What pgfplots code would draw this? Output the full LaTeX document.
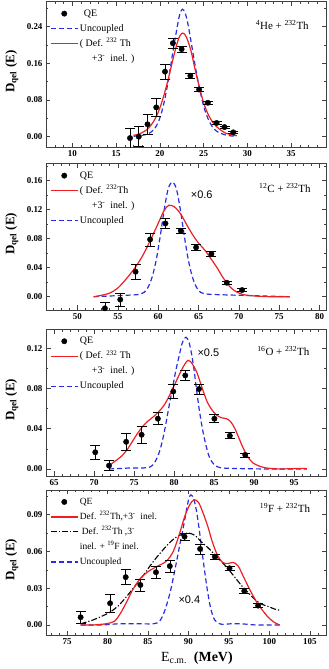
\documentclass[border=0pt]{standalone}
\usepackage{fontspec}
\setmainfont{Liberation Serif}
\newfontfamily\sansf{Liberation Sans}
\usepackage{pgfplots}
\pgfplotsset{compat=1.18}
\definecolor{cred}{RGB}{238,30,35}
\definecolor{cblue}{RGB}{40,45,225}
\pgfplotsset{
  panel/.style={
    scale only axis, width=280bp, anchor=south west,
    axis line style={black!75, line width=0.6bp},
    every tick/.style={black!75, line width=0.5bp},
    tick align=inside,
    major tick length=4.5bp, minor tick length=2.3bp,
    /pgf/number format/assume math mode=true,
    tick label style={font=\bfseries\fontsize{9}{9}\selectfont},
    yticklabel style={/pgf/number format/fixed, /pgf/number format/fixed zerofill, /pgf/number format/precision=2},
    ylabel={\textbf{D\textsubscript{qel} (E)}},
    ylabel style={at={(axis description cs:-0.122,0.52)}, anchor=center, font=\fontsize{13}{13}\selectfont},
    legend cell align=left,
    legend style={draw=none, fill=none, at={(axis description cs:0,1)}, anchor=north west,
      xshift=1bp, yshift=-3bp, font=\fontsize{10}{10}\selectfont, row sep=1.5bp,
      nodes={inner sep=1.5bp, text height=8bp, text depth=2.5bp}},
    clip=true,
  },
  qe/.style={black, only marks, mark=*, mark size=2.7bp, forget plot,
    error bars/.cd, y dir=both, y explicit, error mark=-,
    error bar style={line width=0.6bp, black},
    error mark options={line width=0.6bp, mark size=5bp, black, rotate=90}},
  redc/.style={cred, line width=1.2bp, smooth, forget plot},
  bluec/.style={cblue, line width=1.2bp, dash pattern=on 5bp off 3bp, smooth, forget plot},
  blackc/.style={black, line width=1.1bp, dash pattern=on 6bp off 2bp on 1.2bp off 2bp, smooth, forget plot},
}
\begin{document}
\begin{tikzpicture}
\path[use as bounding box] (0,0) rectangle (329bp,669bp);
% ---------------- Panel 1 ----------------
\begin{axis}[panel, at={(46bp,521.7bp)}, height=145.6bp,
  xmin=7, xmax=39, ymin=-0.0231, ymax=0.2945,
  xtick={10,15,20,25,30,35}, minor xtick={7,8,...,39},
  ytick={0,0.08,0.16,0.24}, minor ytick={0.04,0.12,0.20,0.28}]
\addlegendimage{legend image code/.code={\fill[black] (13.5bp,0bp) circle (2.7bp);}}
\addlegendentry{\hspace{4bp}QE}
\addlegendimage{legend image code/.code={\draw[cblue, line width=1.2bp, dash pattern=on 5bp off 3bp] (0bp,0bp) -- (27bp,0bp);}}
\addlegendentry{Uncoupled}
\addlegendimage{legend image code/.code={\draw[cred, line width=1.2bp] (0bp,0bp) -- (27bp,0bp);}}
\addlegendentry{( Def. \textsuperscript{232} Th}
\addlegendimage{empty legend}
\addlegendentry{\hspace{12bp}+3\textsuperscript{-}~ inel. )}
\addplot[bluec] coordinates {
(17.0,0.001)(18.0,0.003)(18.5,0.005)(19.0,0.010)(19.5,0.020)(20.0,0.040)(20.5,0.075)
(21.0,0.125)(21.5,0.185)(22.0,0.240)(22.3,0.268)(22.6,0.278)(22.9,0.270)(23.2,0.248)
(23.6,0.205)(24.0,0.160)(24.5,0.110)(25.0,0.068)(25.5,0.040)(26.0,0.022)(26.5,0.012)
(27.0,0.007)(27.5,0.004)(28.0,0.002)(28.8,0.001)};
\addplot[redc] coordinates {
(17.0,0.003)(17.5,0.005)(18.0,0.009)(18.5,0.015)(19.0,0.025)(19.5,0.040)(20.0,0.062)
(20.5,0.092)(21.0,0.128)(21.5,0.168)(22.0,0.205)(22.3,0.220)(22.6,0.226)(22.9,0.222)
(23.2,0.210)(23.6,0.185)(24.0,0.150)(24.5,0.110)(25.0,0.075)(25.5,0.050)(26.0,0.033)
(26.5,0.022)(27.0,0.014)(27.5,0.008)(28.0,0.005)(28.8,0.002)};
\addplot[qe] table[x=x, y=y, y error=e] {
x y e
16.6 -0.003 0.022
17.6 0.000 0.022
18.6 0.027 0.022
19.6 0.064 0.019
20.6 0.142 0.016
21.5 0.204 0.011
22.5 0.191 0.007
23.5 0.133 0.006
24.5 0.103 0.004
25.5 0.074 0.003
26.5 0.030 0.003
27.4 0.021 0.002
28.4 0.0095 0.002
};
\node[font=\fontsize{11}{11}\selectfont] at (axis cs:34.0,0.2437) {\textsuperscript{4}He + \textsuperscript{232}Th};
\end{axis}
% ---------------- Panel 2 ----------------
\begin{axis}[panel, at={(46bp,359bp)}, height=146.3bp,
  xmin=46.1, xmax=80.8, ymin=-0.0183, ymax=0.1834,
  xtick={50,55,60,65,70,75,80}, minor xtick={47,48,...,80},
  ytick={0,0.04,0.08,0.12,0.16}, minor ytick={0.02,0.06,0.10,0.14,0.18}]
\addlegendimage{legend image code/.code={\fill[black] (13.5bp,0bp) circle (2.7bp);}}
\addlegendentry{QE}
\addlegendimage{legend image code/.code={\draw[cred, line width=1.2bp] (0bp,0bp) -- (27bp,0bp);}}
\addlegendentry{( Def. \textsuperscript{232}Th}
\addlegendimage{empty legend}
\addlegendentry{\hspace{12bp}+3\textsuperscript{-}~ inel. )}
\addlegendimage{legend image code/.code={\draw[cblue, line width=1.2bp, dash pattern=on 5bp off 3bp] (0bp,0bp) -- (27bp,0bp);}}
\addlegendentry{Uncoupled}
\addplot[bluec] coordinates {
(52.0,0.000)(54.0,0.001)(56.0,0.002)(57.5,0.003)(58.25,0.006)(58.75,0.013)(59.25,0.027)
(59.75,0.050)(60.25,0.083)(60.75,0.120)(61.25,0.149)(61.75,0.158)(62.25,0.149)(62.75,0.120)
(63.25,0.083)(63.75,0.050)(64.25,0.027)(64.75,0.013)(65.25,0.006)(65.75,0.004)(67.0,0.003)
(70.0,0.002)(73.0,0.001)(76.3,0.000)};
\addplot[redc] coordinates {
(52.0,0.000)(53.0,0.002)(54.0,0.005)(55.0,0.012)(56.0,0.024)(57.0,0.038)(58.0,0.055)
(59.0,0.077)(60.0,0.101)(60.7,0.118)(61.3,0.126)(62.0,0.124)(62.8,0.114)(63.5,0.100)
(64.3,0.085)(65.0,0.074)(65.8,0.064)(66.5,0.053)(67.3,0.040)(68.0,0.027)(68.8,0.015)
(69.5,0.008)(70.5,0.003)(72.0,0.001)(74.0,0.000)(76.3,0.000)};
\addplot[qe] table[x=x, y=y, y error=e] {
x y e
53.4 -0.016 0.008
55.3 -0.004 0.009
57.2 0.0345 0.010
59.0 0.079 0.009
60.9 0.101 0.007
62.8 0.091 0.004
64.7 0.068 0.004
66.6 0.059 0.003
68.5 0.0193 0.002
70.4 0.0092 0.002
};
\node[font=\fontsize{11}{11}\selectfont] at (axis cs:75.7,0.150) {\textsuperscript{12}C + \textsuperscript{232}Th};
\node[font=\sansf\fontsize{11}{11}\selectfont] at (axis cs:65.4,0.140) {×0.6};
\end{axis}
% ---------------- Panel 3 ----------------
\begin{axis}[panel, at={(46bp,193bp)}, height=146.7bp,
  xmin=64, xmax=99, ymin=-0.007, ymax=0.1389,
  xtick={65,70,75,80,85,90,95}, minor xtick={64,65,...,99},
  ytick={0,0.04,0.08,0.12}, minor ytick={0.02,0.06,0.10}]
\addlegendimage{legend image code/.code={\fill[black] (13.5bp,0bp) circle (2.7bp);}}
\addlegendentry{QE}
\addlegendimage{legend image code/.code={\draw[cred, line width=1.2bp] (0bp,0bp) -- (27bp,0bp);}}
\addlegendentry{( Def. \textsuperscript{232} Th}
\addlegendimage{empty legend}
\addlegendentry{\hspace{12bp}+3\textsuperscript{-}~ inel. )}
\addlegendimage{legend image code/.code={\draw[cblue, line width=1.2bp, dash pattern=on 5bp off 3bp] (0bp,0bp) -- (27bp,0bp);}}
\addlegendentry{Uncoupled}
\addplot[bluec] coordinates {
(71.88,0.000)(73.48,0.0005)(74.55,0.001)(76.16,0.001)(77.02,0.002)(77.55,0.006)(78.09,0.015)
(78.52,0.027)(78.94,0.043)(79.37,0.062)(79.80,0.080)(80.23,0.098)(80.66,0.113)(80.98,0.124)
(81.30,0.130)(81.51,0.131)(81.84,0.127)(82.16,0.116)(82.48,0.100)(82.80,0.080)(83.12,0.061)
(83.55,0.040)(83.98,0.024)(84.41,0.012)(84.94,0.005)(85.48,0.002)(86.33,0.0008)(88.47,0.0003)
(91.69,0.0)(96.61,0.0)};
\addplot[redc] coordinates {
(71.88,0.0033)(72.84,0.009)(73.48,0.013)(74.13,0.019)(74.77,0.027)(75.41,0.035)(76.16,0.043)
(76.80,0.048)(77.44,0.052)(78.09,0.057)(78.73,0.063)(79.37,0.072)(79.91,0.081)(80.44,0.090)
(80.98,0.099)(81.41,0.105)(81.73,0.108)(82.05,0.107)(82.48,0.102)(82.91,0.095)(83.33,0.085)
(83.76,0.075)(84.19,0.066)(84.72,0.059)(85.26,0.054)(85.90,0.051)(86.55,0.050)(87.08,0.047)
(87.62,0.040)(88.15,0.030)(88.69,0.020)(89.23,0.012)(89.87,0.006)(90.62,0.003)(91.37,0.0012)
(92.23,0.0004)(93.30,0.0)(94.90,0.0003)(95.98,0.0006)(96.61,0.0003)};
\addplot[qe] table[x=x, y=y, y error=e] {
x y e
70.16 0.0166 0.007
71.88 0.0033 0.005
74.02 0.027 0.008
75.95 0.034 0.008
77.98 0.050 0.006
79.91 0.077 0.007
81.41 0.093 0.005
83.12 0.0795 0.005
85.05 0.050 0.004
86.98 0.033 0.003
88.90 0.014 0.002
};
\node[font=\fontsize{11}{11}\selectfont] at (axis cs:93.67,0.1177) {\textsuperscript{16}O + \textsuperscript{232}Th};
\node[font=\sansf\fontsize{11}{11}\selectfont] at (axis cs:84.30,0.1157) {×0.5};
\end{axis}
% ---------------- Panel 4 ----------------
\begin{axis}[panel, at={(46bp,33.7bp)}, height=145.3bp,
  xmin=72.4, xmax=107, ymin=-0.0084, ymax=0.110,
  xtick={75,80,85,90,95,100,105}, minor xtick={73,74,...,107},
  ytick={0,0.03,0.06,0.09}, minor ytick={0.015,0.045,0.075,0.105},
  xlabel={E\textsubscript{c.m.}\ \ \textbf{(MeV)}},
  xlabel style={at={(axis description cs:0.539,-0.156)}, anchor=center, font=\fontsize{14}{14}\selectfont},
  legend style={font=\fontsize{9.5}{9.5}\selectfont}]
\addlegendimage{legend image code/.code={\fill[black] (13.5bp,0bp) circle (2.7bp);}}
\addlegendentry{QE}
\addlegendimage{legend image code/.code={\draw[cred, line width=1.2bp] (0bp,0bp) -- (27bp,0bp);}}
\addlegendentry{Def. \textsuperscript{232}Th,+3\textsuperscript{-}~ inel.}
\addlegendimage{legend image code/.code={\draw[black, line width=1.1bp, dash pattern=on 6bp off 2bp on 1.2bp off 2bp] (0bp,0bp) -- (27bp,0bp);}}
\addlegendentry{\hspace{2bp}Def. \textsuperscript{232}Th ,3\textsuperscript{-}}
\addlegendimage{empty legend}
\addlegendentry{inel. + \textsuperscript{19}F inel.}
\addlegendimage{legend image code/.code={\draw[cblue, line width=1.2bp, dash pattern=on 5bp off 3bp] (0bp,0bp) -- (27bp,0bp);}}
\addlegendentry{Uncoupled}
\addplot[bluec] coordinates {
(76.68,0.000)(79.25,0.000)(81.39,0.001)(83.53,0.001)(85.67,0.001)(86.42,0.003)(86.95,0.0095)
(87.38,0.018)(87.81,0.0285)(88.24,0.042)(88.66,0.056)(88.98,0.067)(89.31,0.0775)(89.63,0.089)
(89.84,0.0965)(90.05,0.103)(90.27,0.106)(90.48,0.105)(90.70,0.102)(91.02,0.092)(91.34,0.0775)
(91.66,0.061)(91.98,0.045)(92.30,0.030)(92.62,0.0177)(92.94,0.009)(93.26,0.004)(93.69,0.0015)
(94.23,0.0005)(95.30,0.001)(96.37,0.001)(97.44,0.0005)(98.50,0.0)(101.29,0.0)};
\addplot[blackc] coordinates {
(76.68,0.001)(78.18,0.004)(79.25,0.007)(80.32,0.0105)(81.39,0.016)(82.46,0.024)(83.31,0.031)
(84.38,0.040)(85.35,0.049)(86.31,0.057)(87.38,0.065)(88.34,0.071)(89.09,0.0735)(89.95,0.075)
(90.80,0.073)(91.55,0.068)(92.41,0.063)(93.16,0.058)(94.01,0.052)(94.87,0.046)(95.72,0.039)
(96.58,0.032)(97.44,0.026)(98.18,0.021)(99.04,0.017)(99.90,0.015)(100.64,0.013)(101.29,0.012)};
\addplot[redc] coordinates {
(76.68,0.000)(78.18,0.000)(79.79,0.001)(80.85,0.003)(81.60,0.0095)(82.46,0.020)(83.10,0.0285)
(84.06,0.038)(85.13,0.044)(86.20,0.048)(87.27,0.052)(88.13,0.060)(88.88,0.074)(89.52,0.088)
(90.16,0.098)(90.70,0.102)(91.23,0.100)(91.77,0.092)(92.41,0.080)(92.94,0.068)(93.58,0.057)
(94.23,0.051)(94.87,0.050)(95.51,0.051)(96.15,0.048)(96.90,0.038)(97.65,0.028)(98.40,0.019)
(99.15,0.012)(99.90,0.006)(100.64,0.002)(101.29,0.000)};
\addplot[qe] table[x=x, y=y, y error=e] {
x y e
76.68 0.0063 0.005
80.32 0.0177 0.007
82.25 0.039 0.006
84.06 0.0326 0.005
85.99 0.043 0.005
87.70 0.048 0.005
89.52 0.072 0.003
91.44 0.062 0.004
93.26 0.0557 0.002
95.08 0.0462 0.002
96.90 0.0277 0.002
98.61 0.0158 0.0015
};
\node[font=\fontsize{11}{11}\selectfont] at (axis cs:101.93,0.0952) {\textsuperscript{19}F + \textsuperscript{232}Th};
\node[font=\sansf\fontsize{11}{11}\selectfont] at (axis cs:90.11,0.0204) {×0.4};
\end{axis}
\end{tikzpicture}
\end{document}
